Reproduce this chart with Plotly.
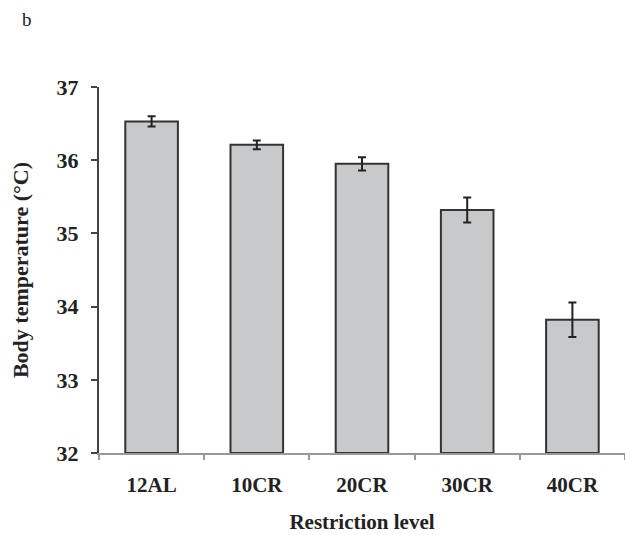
import plotly.graph_objects as go

# Mean body temperature per restriction level, with error bars
levels = ["12AL", "10CR", "20CR", "30CR", "40CR"]
body_temp = [36.53, 36.21, 35.95, 35.32, 33.82]
temp_err = [0.07, 0.06, 0.09, 0.17, 0.235]
y_ticks = [32, 33, 34, 35, 36, 37]

serif = "Liberation Serif"
ink = "#222222"

fig = go.Figure(
    go.Bar(
        x=levels,
        y=[v - 32 for v in body_temp],
        base=32,
        width=0.5,
        marker=dict(color="#c8c9cb", line=dict(color="#333333", width=2)),
        error_y=dict(type="data", array=temp_err, visible=True,
                     color=ink, thickness=2, width=4),
    )
)

# plot area in pixels: left 99, right 625, top 87, bottom 453
fig.update_layout(
    width=625, height=535,
    margin=dict(l=99, r=0, t=87, b=82),
    paper_bgcolor="white", plot_bgcolor="white",
    showlegend=False,
    font=dict(family=serif, color=ink),
    annotations=[dict(text="b", x=(27 - 99) / 526, y=(453 - 20) / 366,
                      xref="paper", yref="paper", xanchor="center", yanchor="middle",
                      showarrow=False, font=dict(size=19, family=serif, color=ink))],
)

fig.update_xaxes(
    range=[-0.5, 4.5],
    showline=True, linecolor="#999999", linewidth=2,
    ticks="outside", tickson="boundaries", ticklen=5, tickcolor="#999999", tickwidth=2,
    ticklabelstandoff=12,
    tickfont=dict(size=21, family=serif, color=ink, weight="bold"),
    title=dict(text="Restriction level", standoff=18,
               font=dict(size=21, family=serif, color=ink, weight="bold")),
    showgrid=False,
)
fig.update_yaxes(
    range=[32, 37], tickvals=y_ticks,
    showline=True, linecolor="#444444", linewidth=2,
    ticks="outside", ticklen=6, tickcolor="#444444", tickwidth=2,
    ticklabelstandoff=8,
    tickfont=dict(size=22, family=serif, color=ink, weight="bold"),
    title=dict(text="Body temperature (°C)", standoff=22,
               font=dict(size=22, family=serif, color=ink, weight="bold")),
    showgrid=False, zeroline=False,
)

fig.write_html("out.html")
